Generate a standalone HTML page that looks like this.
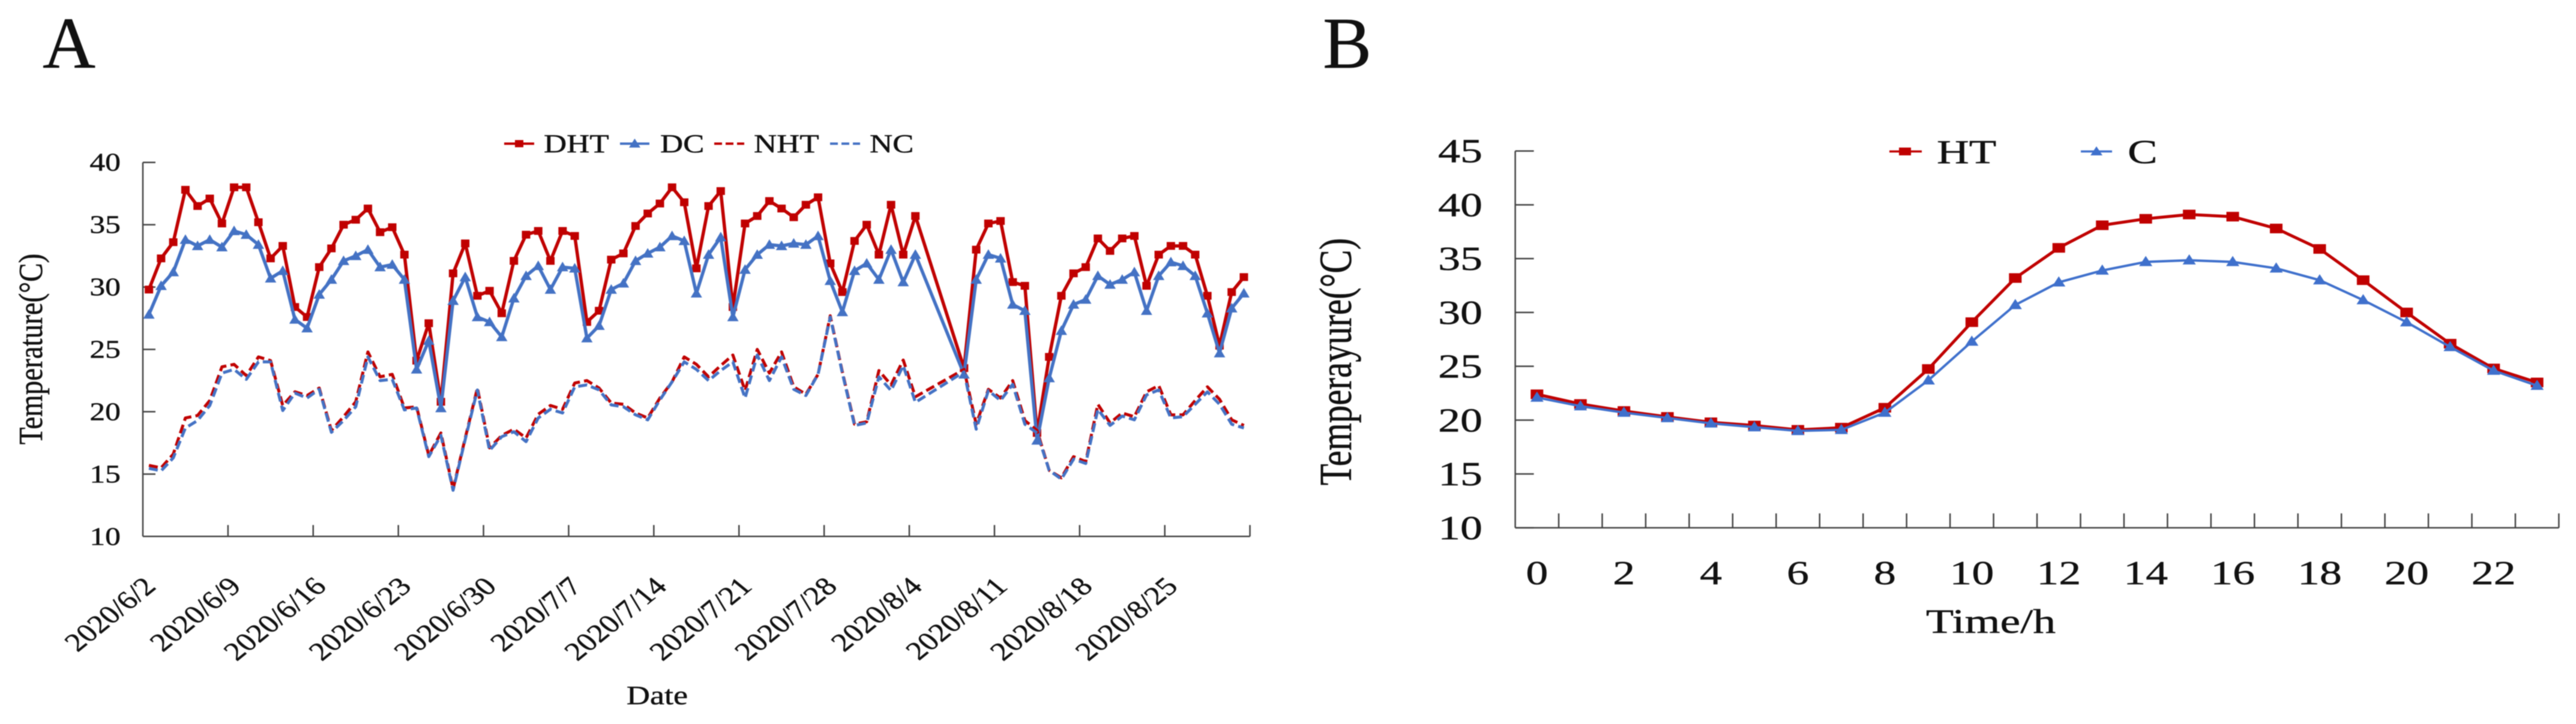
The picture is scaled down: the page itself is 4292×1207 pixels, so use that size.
<!DOCTYPE html>
<html lang="en">
<head>
<meta charset="utf-8">
<title>Temperature charts</title>
<style>
html,body{margin:0;padding:0;background:#fff;}
svg{display:block;filter:blur(0.7px);}
text{font-family:"Liberation Serif",serif;fill:#111;stroke:#111;stroke-width:0.5px;}
</style>
</head>
<body>
<svg id="figure" xmlns="http://www.w3.org/2000/svg" width="4292" height="1207" viewBox="0 0 4292 1207">
  <rect width="4292" height="1207" fill="#fff"/>
  <text x="71" y="113" font-size="122">A</text>
  <text x="2204" y="113" font-size="122">B</text>

  <g id="chartA"></g>
  <g id="chartB"></g>

  <text transform="translate(70,582) scale(1.2,1) rotate(-90)" text-anchor="middle" font-size="47">Temperature(°C)</text>
  <text transform="translate(1095,1174) scale(1.23,1)" text-anchor="middle" font-size="44">Date</text>

  <g id="legendA">
    <text transform="translate(906,254) scale(1.23,1)" font-size="43">DHT</text>
    <text transform="translate(1100,254) scale(1.23,1)" font-size="43">DC</text>
    <text transform="translate(1256,254) scale(1.23,1)" font-size="43">NHT</text>
    <text transform="translate(1449,254) scale(1.23,1)" font-size="43">NC</text>
    <line x1="840" x2="890" y1="239.5" y2="239.5" stroke="#C00000" stroke-width="4"/>
    <rect x="858" y="233.5" width="14" height="12" fill="#C00000"/>
    <line x1="1033" x2="1082" y1="239.5" y2="239.5" stroke="#4472C4" stroke-width="4"/>
    <polygon points="1057.5,231 1067,246 1048,246" fill="#4472C4"/>
    <line x1="1190" x2="1240" y1="239.5" y2="239.5" stroke="#C00000" stroke-width="4" stroke-dasharray="13 6"/>
    <line x1="1383" x2="1433" y1="239.5" y2="239.5" stroke="#4472C4" stroke-width="4" stroke-dasharray="13 6"/>
  </g>

  <text transform="translate(2251,603) scale(1.3,1) rotate(-90)" text-anchor="middle" font-size="59">Temperayure(°C)</text>
  <text transform="translate(3317,1055) scale(1.33,1)" text-anchor="middle" font-size="57">Time/h</text>

  <g id="legendB">
    <text transform="translate(3227,272) scale(1.33,1)" font-size="56">HT</text>
    <text transform="translate(3545,272) scale(1.33,1)" font-size="56">C</text>
    <line x1="3148" x2="3202" y1="252.5" y2="252.5" stroke="#C00000" stroke-width="3.5"/>
    <rect x="3164" y="246" width="20" height="13" fill="#C00000"/>
    <line x1="3467" x2="3519" y1="252.5" y2="252.5" stroke="#3F70CC" stroke-width="3.5"/>
    <polygon points="3493,244 3503,259 3483,259" fill="#3F70CC"/>
  </g>
</svg>

<script>
// Chart A data
const dateTickLabels = ['2020/6/2','2020/6/9','2020/6/16','2020/6/23','2020/6/30','2020/7/7','2020/7/14','2020/7/21','2020/7/28','2020/8/4','2020/8/11','2020/8/18','2020/8/25'];
const dateTickEvery = 7;
const yTicksA = [10,15,20,25,30,35,40];
const dhtValues = [
29.8,32.3,33.6,37.8,36.5,37.1,35.1,38.0,38.0,35.2,
32.3,33.3,28.4,27.6,31.6,33.1,35.0,35.4,36.3,34.4,
34.8,32.6,24.1,27.1,20.8,31.1,33.5,29.3,29.7,27.9,
32.1,34.2,34.5,32.1,34.5,34.1,27.2,28.1,32.2,32.7,
34.9,35.9,36.7,38.0,36.8,31.5,36.5,37.7,28.4,35.1,
35.7,36.9,36.3,35.6,36.6,37.2,31.9,29.6,33.7,35.0,
32.6,36.6,32.6,35.7,null,null,null,23.5,33.0,35.1,
35.3,30.4,30.1,18.3,24.4,29.3,31.1,31.6,33.9,32.9,
33.9,34.1,30.1,32.6,33.3,33.3,32.6,29.3,25.3,29.6,30.8];
const dcValues = [
27.8,30.1,31.2,33.8,33.3,33.8,33.2,34.5,34.2,33.4,
30.7,31.3,27.4,26.7,29.4,30.6,32.1,32.5,33.0,31.6,
31.8,30.6,23.4,25.7,20.3,28.9,30.8,27.6,27.2,26.0,
29.1,30.9,31.7,29.8,31.6,31.5,25.9,26.9,29.8,30.3,
32.1,32.7,33.2,34.1,33.7,29.5,32.6,34.0,27.6,31.4,
32.6,33.4,33.3,33.5,33.4,34.1,30.5,28.0,31.3,31.9,
30.6,33.0,30.4,32.6,null,null,null,23.0,30.6,32.6,
32.3,28.6,28.1,17.7,22.7,26.5,28.6,29.0,30.9,30.2,
30.6,31.2,28.1,30.9,32.0,31.7,30.9,27.9,24.7,28.3,29.5];
const nhtValues = [
15.7,15.5,16.6,19.5,19.7,20.9,23.6,23.8,22.9,24.4,
24.1,20.5,21.6,21.3,21.9,18.5,19.6,20.8,24.8,22.8,
23.0,20.3,20.4,16.5,18.3,13.8,17.9,21.9,17.1,18.1,
18.6,17.9,19.8,20.5,20.2,22.3,22.5,21.9,20.7,20.6,
19.9,19.5,21.1,22.4,24.4,23.8,22.8,23.7,24.55,21.7,
25.0,23.1,24.8,22.0,21.4,23.0,27.7,23.2,19.0,19.2,
23.3,22.15,24.15,21.2,null,null,null,23.4,19.0,21.8,
21.1,22.5,19.3,18.5,15.3,14.7,16.4,16.0,20.6,19.1,
19.9,19.6,21.6,22.1,19.75,19.75,20.9,22.0,21.0,19.35,18.9];
const ncValues = [
15.46,15.26,16.3,18.7,19.3,20.5,23.1,23.4,22.6,24.0,
24.0,20.1,21.5,21.1,21.8,18.35,19.3,20.4,24.4,22.5,
22.6,20.15,20.3,16.4,18.1,13.7,17.8,21.75,16.9,18.0,
18.4,17.6,19.5,20.2,19.9,22.0,22.15,21.75,20.55,20.4,
19.75,19.35,20.95,22.4,24.0,23.4,22.5,23.3,24.0,21.1,
24.55,22.5,24.4,21.8,21.3,23.0,27.6,23.1,18.9,19.1,
22.8,21.7,23.7,20.75,null,null,null,23.2,18.6,21.7,
20.9,22.2,19.0,18.3,15.3,14.6,16.2,15.85,20.2,18.9,
19.65,19.35,21.35,21.75,19.5,19.6,20.6,21.6,20.6,19.0,18.7];

// Chart B data
const hourTickLabels = ['0','2','4','6','8','10','12','14','16','18','20','22'];
const yTicksB = [10,15,20,25,30,35,40,45];
const htValues = [22.4,21.5,20.85,20.3,19.8,19.5,19.1,19.3,21.15,24.75,29.1,33.2,36.0,38.1,38.7,39.1,38.9,37.8,35.9,33.0,30.0,27.1,24.8,23.5];
const cValues = [22.1,21.3,20.7,20.2,19.7,19.35,19.0,19.1,20.7,23.7,27.3,30.7,32.8,33.9,34.7,34.85,34.7,34.1,33.0,31.15,29.1,26.8,24.6,23.2];

const SVGNS = 'http://www.w3.org/2000/svg';
function mk(parent, tag, attrs, txt){
  const el = document.createElementNS(SVGNS, tag);
  for (const k in attrs) el.setAttribute(k, attrs[k]);
  if (txt !== undefined) el.textContent = txt;
  parent.appendChild(el);
  return el;
}
function linePath(values, xf, yf){
  const pts = [];
  values.forEach(function(v, i){ if (v !== null) pts.push(xf(i).toFixed(1) + ',' + yf(v).toFixed(1)); });
  return pts.join(' ');
}
const RED = '#C00000', BLUE = '#4472C4', BLUE_B = '#3F70CC', AXIS = '#444';

// ---- Chart A ----
(function(){
  const g = document.getElementById('chartA');
  const left = 238, right = 2082.6, bottom = 894.3, top = 270.7;
  const n = dhtValues.length;
  const xA = function(i){ return left + (i + 0.5) * (right - left) / n; };
  const yA = function(v){ return bottom - (v - 10) * (bottom - top) / 30; };

  const axisY = mk(g, 'line', {x1:left, x2:left, y1:top, y2:bottom, stroke:AXIS, 'stroke-width':2.5});
  
  
  const axisX = mk(g, 'line', {x1:left, x2:right, y1:bottom, y2:bottom, stroke:AXIS, 'stroke-width':2.5});
  
  

  yTicksA.forEach(function(v){
    const t = mk(g, 'line', {x1:left, x2:left + 21, y1:yA(v), y2:yA(v), stroke:AXIS, 'stroke-width':2.5});
    
    
    const l = mk(g, 'text', {transform:'translate(201,' + (yA(v) + 14) + ') scale(1.23,1)', 'text-anchor':'end', 'font-size':42}, String(v));
    
    
  });
  for (let i = dateTickEvery; i <= n; i += dateTickEvery) {
    const px = left + i * (right - left) / n;
    const t = mk(g, 'line', {x1:px, x2:px, y1:bottom - 19, y2:bottom, stroke:AXIS, 'stroke-width':2.5});
    
    
  }
  dateTickLabels.forEach(function(s, k){
    const px = xA(k * dateTickEvery);
    const l = mk(g, 'text', {transform:'translate(' + (px + 14) + ',980) scale(1.23,1) rotate(-45)', 'text-anchor':'end', 'font-size':43}, s);
    
    
  });

  const s1 = mk(g, 'polyline', {points:linePath(dhtValues, xA, yA), fill:'none', stroke:RED, 'stroke-width':5.5, 'stroke-linejoin':'round'});
  
  
  dhtValues.forEach(function(v, i){
    if (v === null) return;
    const m = mk(g, 'rect', {x:xA(i) - 7, y:yA(v) - 6.5, width:14, height:13, fill:RED});
    
    
  });
  const s2 = mk(g, 'polyline', {points:linePath(dcValues, xA, yA), fill:'none', stroke:BLUE, 'stroke-width':5.5, 'stroke-linejoin':'round'});
  
  
  dcValues.forEach(function(v, i){
    if (v === null) return;
    const cx = xA(i), cy = yA(v);
    const m = mk(g, 'polygon', {points:cx + ',' + (cy - 9) + ' ' + (cx + 9.5) + ',' + (cy + 7) + ' ' + (cx - 9.5) + ',' + (cy + 7), fill:BLUE});
    
    
  });
  const s3 = mk(g, 'polyline', {points:linePath(nhtValues, xA, yA), fill:'none', stroke:RED, 'stroke-width':5, 'stroke-dasharray':'15 7', 'stroke-linejoin':'round'});
  
  
  const s4 = mk(g, 'polyline', {points:linePath(ncValues, xA, yA), fill:'none', stroke:BLUE, 'stroke-width':5, 'stroke-dasharray':'15 7', 'stroke-linejoin':'round'});
  
  
})();

// ---- Chart B ----
(function(){
  const g = document.getElementById('chartB');
  const left = 2524.6, right = 4263.4, bottom = 879.9, top = 251.7;
  const n = htValues.length;
  const xB = function(i){ return left + (i + 0.5) * (right - left) / n; };
  const yB = function(v){ return bottom - (v - 10) * (bottom - top) / 35; };

  const axisY = mk(g, 'line', {x1:left, x2:left, y1:top, y2:bottom, stroke:AXIS, 'stroke-width':2.5});
  
  
  const axisX = mk(g, 'line', {x1:left, x2:right, y1:bottom, y2:bottom, stroke:AXIS, 'stroke-width':2.5});
  
  

  yTicksB.forEach(function(v){
    const t = mk(g, 'line', {x1:left, x2:left + 31, y1:yB(v), y2:yB(v), stroke:AXIS, 'stroke-width':2.5});
    
    
    const l = mk(g, 'text', {transform:'translate(2470,' + (yB(v) + 19) + ') scale(1.32,1)', 'text-anchor':'end', 'font-size':56}, String(v));
    
    
  });
  for (let i = 1; i <= n; i++) {
    const px = left + i * (right - left) / n;
    const t = mk(g, 'line', {x1:px, x2:px, y1:bottom - 24, y2:bottom, stroke:AXIS, 'stroke-width':2.5});
    
    
  }
  hourTickLabels.forEach(function(s, k){
    const l = mk(g, 'text', {transform:'translate(' + xB(k * 2) + ',974) scale(1.32,1)', 'text-anchor':'middle', 'font-size':56}, s);
    
    
  });

  const s1 = mk(g, 'polyline', {points:linePath(htValues, xB, yB), fill:'none', stroke:RED, 'stroke-width':5, 'stroke-linejoin':'round'});
  
  
  htValues.forEach(function(v, i){
    const m = mk(g, 'rect', {x:xB(i) - 10.5, y:yB(v) - 8, width:21, height:16, fill:RED});
    
    
  });
  const s2 = mk(g, 'polyline', {points:linePath(cValues, xB, yB), fill:'none', stroke:BLUE_B, 'stroke-width':4, 'stroke-linejoin':'round'});
  
  
  cValues.forEach(function(v, i){
    const cx = xB(i), cy = yB(v);
    const m = mk(g, 'polygon', {points:cx + ',' + (cy - 10) + ' ' + (cx + 11) + ',' + (cy + 7) + ' ' + (cx - 11) + ',' + (cy + 7), fill:BLUE_B});
    
    
  });
})();
</script>
</body>
</html>
